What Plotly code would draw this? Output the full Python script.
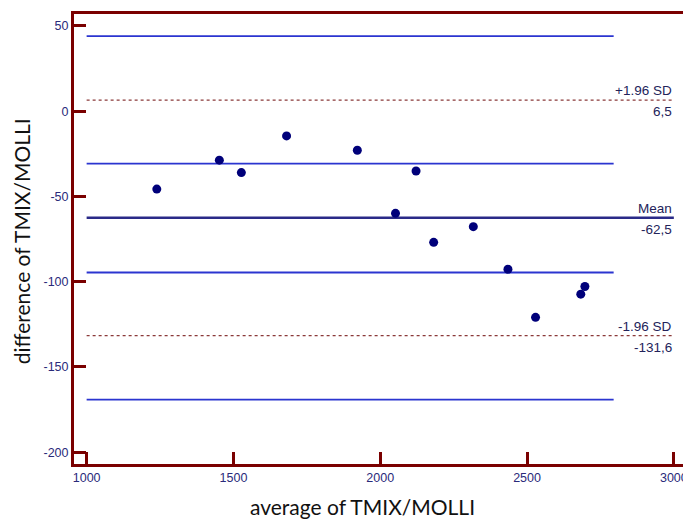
import plotly.graph_objects as go

# Data points (average, difference)
avg_vals = [1239, 1452, 1527, 1681, 1922, 2122, 2052, 2182, 2317, 2435, 2529, 2697, 2683]
diff_vals = [-45.7, -28.7, -36.0, -14.5, -22.9, -35.1, -59.9, -76.9, -67.7, -92.7, -120.9, -102.8, -107.3]

# Reference levels
mean_val = -62.5
upper_loa = 6.5
lower_loa = -131.6
ci_levels = [44.0, -30.7, -94.6, -169.1]

ci_x = [1000, 2795]
ref_x = [1000, 3000]

x_ticks = [1000, 1500, 2000, 2500, 3000]
y_ticks = [50, 0, -50, -100, -150, -200]
y_ticklabels = ["50", "0", "-50", "-100", "-150", "-200"]

frame_col = "#7a0000"
tick_font_col = "#2a2a7a"
navy = "#00007a"
blue = "#2b35d0"

fig = go.Figure()

for lv in ci_levels:
    fig.add_trace(go.Scatter(x=ci_x, y=[lv, lv], mode="lines",
                             line=dict(color=blue, width=1.8), hoverinfo="skip", showlegend=False))

for lv in [upper_loa, lower_loa]:
    fig.add_trace(go.Scatter(x=ref_x, y=[lv, lv], mode="lines",
                             line=dict(color="#8b3a3a", width=1.4, dash="dot"), hoverinfo="skip", showlegend=False))

fig.add_trace(go.Scatter(x=ref_x, y=[mean_val, mean_val], mode="lines",
                         line=dict(color="#2a2a88", width=2.4), hoverinfo="skip", showlegend=False))

fig.add_trace(go.Scatter(x=avg_vals, y=diff_vals, mode="markers",
                         marker=dict(color=navy, size=9), showlegend=False))

lab_font = dict(family="Liberation Sans, Arial", size=13.5, color="#23235a")
labels = [("+1.96 SD", f"{upper_loa}".replace(".", ","), upper_loa),
          ("Mean", f"{mean_val}".replace(".", ","), mean_val),
          ("-1.96 SD", f"{lower_loa}".replace(".", ","), lower_loa)]
anns = []
for top, bot, lv in labels:
    anns.append(dict(x=3000, y=lv, xref="x", yref="y", text=top, showarrow=False,
                     xanchor="right", yanchor="bottom", yshift=0, font=lab_font))
    anns.append(dict(x=3000, y=lv, xref="x", yref="y", text=bot, showarrow=False,
                     xanchor="right", yanchor="top", yshift=-2, font=lab_font))

# page is offset by the 8px default body margin; compensate
OFF = 8
W, H = 691 - OFF, 520 - OFF
ml, mr, mt, mb = 74 - OFF, 3, 12 - OFF, 56
pw, ph = W - ml - mr, H - mt - mb

def px_to_paper(px, py):
    return (px - OFF - ml) / pw, (H - mb - (py - OFF)) / ph

title_font = dict(family="Lato, Open Sans, sans-serif", size=21, color="#111111")
xt, yt = px_to_paper(364, 507)
anns.append(dict(x=xt, y=yt, xref="paper", yref="paper", text="average of TMIX/MOLLI",
                 showarrow=False, font=title_font, xanchor="center", yanchor="middle"))
xt, yt = px_to_paper(22, 240)
anns.append(dict(x=xt, y=yt, xref="paper", yref="paper", text="difference of TMIX/MOLLI",
                 textangle=-90, showarrow=False, font=title_font, xanchor="center", yanchor="middle"))

tick_font = dict(family="Liberation Sans, Arial", size=12.5, color=tick_font_col)

fig.update_layout(
    width=W, height=H,
    margin=dict(l=ml, r=mr, t=mt, b=mb),
    plot_bgcolor="white", paper_bgcolor="white",
    annotations=anns,
    xaxis=dict(range=[957, 3038], tickvals=x_ticks, ticks="inside", ticklen=12, tickwidth=2.5,
               tickcolor=frame_col, showline=True, linecolor=frame_col, linewidth=3, mirror=True,
               showgrid=False, zeroline=False, tickfont=tick_font),
    yaxis=dict(range=[-206.9, 57.0], tickvals=y_ticks, ticktext=y_ticklabels, ticks="inside",
               ticklen=12, tickwidth=2.5, tickcolor=frame_col, showline=True, linecolor=frame_col,
               linewidth=3, mirror=True, showgrid=False, zeroline=False, tickfont=tick_font),
)

fig.write_html("out.html")
